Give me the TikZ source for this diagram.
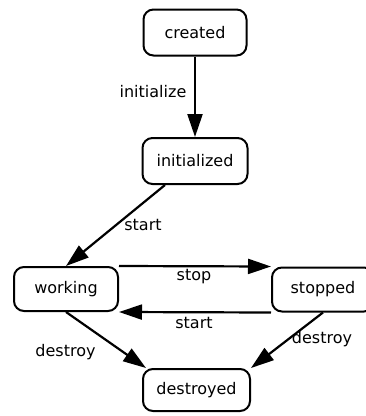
\documentclass[tikz,border=0pt]{standalone}
\usepackage{fontspec}
\setmainfont{DejaVu Sans}
\usetikzlibrary{arrows.meta}
\begin{document}
\begin{tikzpicture}[x=1pt,y=-1pt,
  state/.style={draw, line width=2pt, rounded corners=10pt, inner sep=0pt,
    font=\fontsize{16}{19}\selectfont},
  lbl/.style={inner sep=0pt, font=\fontsize{16}{19}\selectfont},
  trans/.style={line width=2.2pt, -{Triangle[length=23pt,width=15pt]}}]
  \useasboundingbox (0,0) rectangle (366,416);
  % states
  \node[state, minimum width=103pt, minimum height=46pt] (created) at (195,32.5) {created};
  \node[state, minimum width=105pt, minimum height=46pt] (initialized) at (195,161) {initialized};
  \node[state, minimum width=104pt, minimum height=44pt] (working) at (66,289) {working};
  \node[state, minimum width=102pt, minimum height=44pt] (stopped) at (323,289.5) {stopped};
  \node[state, minimum width=107pt, minimum height=42pt] (destroyed) at (196.5,390) {destroyed};
  % transitions
  \draw[trans] (created.south) -- (initialized.north);
  \draw[trans] ([xshift=-30pt]initialized.south) -- (working.north);
  \draw[trans] (working.north east) -- (stopped.north west);
  \draw[trans] (stopped.south west) -- (working.south east);
  \draw[trans] (working.south) -- ([xshift=4pt]destroyed.north west);
  \draw[trans] (stopped.south) -- (destroyed.north east);
  % transition labels
  \node[lbl] (l-init) at (153,92) {initialize};
  \node[lbl] (l-start1) at (143,225) {start};
  \node[lbl] (l-stop) at (194,277) {stop};
  \node[lbl] (l-start2) at (194,323) {start};
  \node[lbl] (l-destroy1) at (65.5,352) {destroy};
  \node[lbl] (l-destroy2) at (322,339) {destroy};
\end{tikzpicture}
\end{document}
